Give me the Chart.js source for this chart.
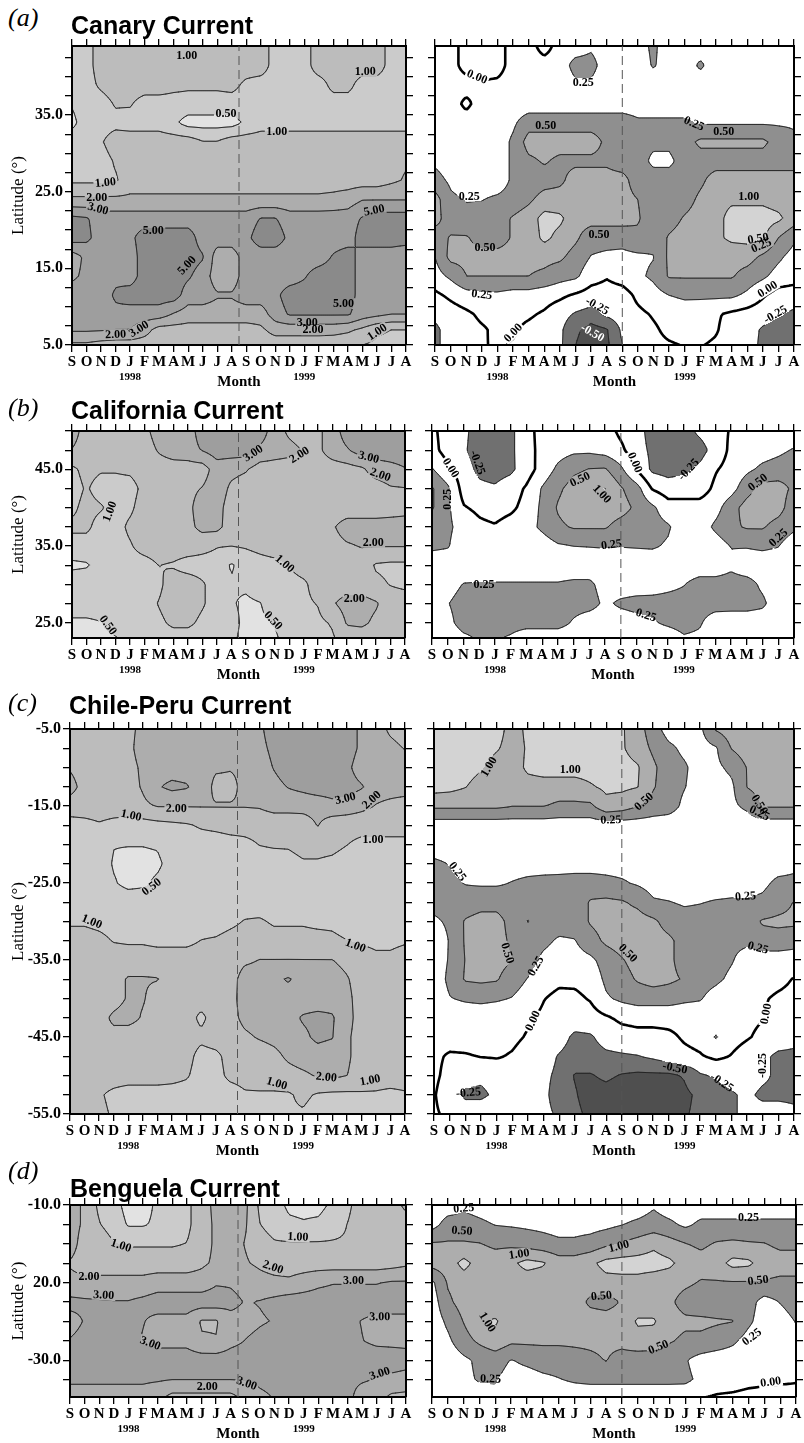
<!DOCTYPE html>
<html>
<head>
<meta charset="utf-8">
<script src="https://cdn.jsdelivr.net/npm/chart.js@4.4.1/dist/chart.umd.min.js"></script>
<style>
html, body { margin: 0; padding: 0; background: #fff; }
#page { position: relative; width: 804px; height: 1443px; overflow: hidden; }
#page canvas { position: absolute; }
.tag { position: absolute; font: italic 26px "Liberation Serif", serif; line-height: 26px; white-space: nowrap; }
.name { position: absolute; font: bold 25px "Liberation Sans", Arial, sans-serif; line-height: 25px; white-space: nowrap; }
</style>
</head>
<body>
<div id="page"></div>
<script>
// month ticks, Sep 1997 .. Aug 1999
const months = ['S','O','N','D','J','F','M','A','M','J','J','A','S','O','N','D','J','F','M','A','M','J','J','A'];
const bottomText = ['1998', 'Month', '1999'];
const bottomPos = [4, 11.5, 16];

const meanLevels = [0.5, 1, 2, 3, 5];
const anomLevels = [-0.5, -0.25, 0, 0.25, 0.5, 1];
const meanShades = ['#e2e2e2', '#cbcbcb', '#bcbcbc', '#adadad', '#9e9e9e', '#8a8a8a'];
const anomShades = ['#4f4f4f', '#707070', '#ffffff', '#ffffff', '#8f8f8f', '#adadad', '#d3d3d3'];

// (a) Canary Current
const latA = [44, 41.5, 39, 36.5, 34, 31.5, 29, 26.5, 24, 21.5, 19, 16.5, 14, 11.5, 9, 7, 5];
const latTicksA = [5, 15, 25, 35];
const latTextA = ['5.0', '15.0', '25.0', '35.0'];
const canaryMean = [
  [.8,.8,1.5,1.5,1.5,1.5,1.5,1.5,1.5,1.5,1.5,1.5,1.5,1.5,.8,.8,.8,1.5,1.5,1.5,1.5,1.5,.8,.8],
  [.8,.8,1.5,1.5,1.5,1.5,1.5,1.5,1.5,1.5,1.5,1.5,1.5,1.5,.8,.8,.8,1.5,1.5,1.5,1.5,1.5,.8,.8],
  [.8,.8,1.2,1.5,1.5,1.5,1.5,1.3,1.2,1.2,1.2,1.3,.9,.8,.8,.8,.8,.8,1.3,1.3,.8,.8,.8,.8],
  [.55,.8,.8,1.1,1.1,.8,.8,.8,.8,.8,.8,.8,.8,.8,.8,.8,.8,.8,.8,.8,.8,.8,.8,.8],
  [.35,.8,.8,.85,.8,.8,.8,.6,.3,.3,.3,.3,.6,.8,.8,.8,.8,.8,.8,.8,.8,.8,.8,.8],
  [.8,.8,.95,1.5,1.5,1.5,1.5,1.5,1.5,1.05,1.05,1.5,1.5,1.5,1.5,1.5,1.5,1.5,1.5,1.5,1.5,1.5,1.5,1.5],
  [.8,.8,.8,1.1,1.5,1.5,1.5,1.5,1.5,1.5,1.5,1.5,1.5,1.5,1.5,1.5,1.5,1.5,1.5,1.5,1.5,1.5,1.7,1.9],
  [.9,.9,.9,.95,1.5,1.5,1.5,1.5,1.5,1.5,1.5,1.5,1.5,1.5,1.5,1.5,1.5,1.5,1.5,1.5,1.5,1.5,1.8,2.1],
  [2.2,2.2,2.2,2.2,2.2,2.2,2.2,2.2,2.2,2.2,2.2,2.2,2.2,2.2,2.2,2.2,2.2,2.2,2.3,2.5,2.95,2.95,2.95,2.95],
  [5.5,5.2,4,4,4,4,4,4,4,4,4,4,4,5.1,5.1,4,4,4,4,4,5.2,6,6,6],
  [6,5.5,4,4,4.5,6,6,6,6,4,4,4,4.5,6,6,4.5,4,4,4,4,6,6,6,6],
  [2.5,3.5,4,4,4,6,6,6,6,5.2,2.5,2.5,4,4,4,4,4,4,5.2,6,4,4,4,3.5],
  [2.8,3.5,4,4.5,4,6,6,6,5.3,4,2.5,2.5,4,4,4,4,4.8,6,6,6,4,4,4,4],
  [4,4,4,5.3,6,6,6,6,4,4,3.2,3.2,4,4,4.5,6,6,6,6,6,4,4,4,4],
  [4,4,4,4.5,4,4,4,2.9,2.5,2.5,2.5,2.5,2.5,2.5,4,5.2,5.2,5.2,5.2,5.2,4,3.5,3,3],
  [3.3,3.3,3.2,3.0,3.0,2.4,1.6,1.6,1.6,1.6,1.6,1.6,1.6,1.8,2.4,2.4,2.4,2.4,2.4,2.2,1.8,1.2,1.0,1.0],
  [1.8,1.8,1.6,1.5,1.5,1.5,1.4,1.4,1.4,1.4,1.4,1.4,1.4,1.4,1.4,1.4,1.4,1.4,1.3,1.2,1.0,.9,.8,.8]
];
const canaryAnom = [
  [.1,.1,-.1,-.1,-.1,.1,.1,-.1,.1,.1,.2,.1,.1,.15,.3,.1,.1,.1,.1,.1,.1,.1,.1,.1],
  [.1,.1,-.1,-.1,-.1,.1,.1,.1,.1,.35,.35,.1,.1,.1,.28,.1,.1,.3,.1,.1,.1,.1,.1,.1],
  [.1,.1,.1,.02,.05,.1,.1,.1,.1,.2,.2,.1,.1,.1,.1,.1,.1,.1,.1,.1,.1,.1,.1,.1],
  [.1,.1,-.05,.1,.1,.1,.1,.1,.1,.1,.1,.1,.1,.1,.1,.1,.1,.1,.1,.1,.1,.1,.1,.1],
  [.1,.1,.1,.1,.1,.2,.4,.4,.4,.4,.4,.4,.4,.3,.3,.3,.3,.22,.22,.22,.22,.22,.22,.22],
  [.1,.1,.1,.1,.1,.3,.7,.7,.7,.7,.7,.45,.4,.3,.3,.3,.4,.6,.6,.6,.6,.6,.4,.3],
  [.2,.1,.1,.1,.1,.3,.45,.55,.45,.45,.45,.45,.35,.35,.2,.2,.35,.4,.4,.4,.4,.4,.4,.4],
  [.35,.2,.1,.1,.1,.3,.35,.4,.45,.7,.7,.7,.7,.35,.35,.35,.35,.45,.7,.7,.7,.7,.7,.7],
  [.7,.3,.24,.24,.3,.35,.45,.7,.7,.7,.7,.7,.7,.5,.35,.35,.4,.6,.8,.9,.9,.9,.8,.7],
  [.7,.35,.3,.35,.4,.55,.75,1.18,1.1,.7,.7,.7,.7,.55,.35,.4,.55,.7,.8,1.2,1.2,1.2,1.1,.75],
  [.35,.55,.55,.4,.4,.55,.7,1.12,.85,.6,.35,.35,.35,.45,.35,.55,.7,.75,.9,1.1,1.15,1.1,.5,.3],
  [.25,.65,.65,.65,.65,.65,.65,.65,.6,.4,.24,.2,.18,.2,.24,.6,.7,.7,.7,.7,.7,.45,.3,.15],
  [.15,.3,.5,.5,.5,.5,.5,.45,.35,.3,.1,.02,.1,.2,.3,.55,.55,.55,.55,.55,.4,.3,.15,.1],
  [-.05,.05,.15,.2,.2,.15,.15,.1,.05,-.03,-.1,-.1,-.1,.05,.15,.25,.3,.3,.3,.3,.2,.03,-.1,-.12],
  [-.2,-.12,-.05,.05,.08,.05,.03,-.03,-.15,-.28,-.35,-.2,-.12,-.05,.02,.08,.1,.08,.03,-.05,-.1,-.15,-.22,-.3],
  [-.3,-.15,-.1,-.03,.05,.03,-.05,-.1,-.2,-.45,-.6,-.52,-.2,-.1,-.03,.05,.08,.08,.02,-.1,-.15,-.28,-.35,-.35],
  [-.3,-.15,-.08,-.02,.03,-.02,-.08,-.12,-.2,-.5,-.65,-.55,-.25,-.12,-.05,-.02,.01,.01,-.03,-.1,-.15,-.3,-.35,-.35]
];
const canaryMeanLabels = [
  [7.9,42.8,'1.00'],[20.2,40.7,'1.00'],[10.6,35.2,'0.50'],[14.1,32.8,'1.00'],[2.3,26.2,'1.00'],
  [1.7,24.3,'2.00'],[1.8,22.8,'3.00'],[5.6,20,'5.00'],[7.9,15.4,'5.00'],[20.8,22.6,'5.00'],
  [18.7,10.4,'5.00'],[16.2,7.9,'3.00'],[16.6,7.0,'2.00'],[21,6.7,'1.00'],[3,6.4,'2.00'],[4.6,7.1,'3.00']
];
const canaryAnomLabels = [
  [2.7,40,'0.00'],[9.5,39.3,'0.25'],[7.1,33.7,'0.50'],[16.6,33.9,'0.25'],[18.5,32.8,'0.50'],
  [2.2,24.4,'0.25'],[20.1,24.4,'1.00'],[3.2,17.7,'0.50'],[10.5,19.4,'0.50'],[20.7,18.9,'0.50'],
  [20.9,18,'0.25'],[3,11.6,'0.25'],[21.3,12.3,'0.00'],[10.4,10.1,'-0.25'],[10.1,6.6,'-0.50'],
  [5,6.6,'0.00'],[21.8,9,'-0.25']
];

// (b) California Current
const latB = [50, 47.5, 45, 42.5, 40, 37.5, 35, 32.5, 30, 27.5, 25, 23];
const latTicksB = [25, 35, 45];
const latTextB = ['25.0', '35.0', '45.0'];
const californiaMean = [
  [2.5,1.5,1.5,1.5,1.5,1.7,2.5,2.5,2.5,4,4,4,4,4,2.5,1.8,1.5,1.8,2.5,4,4,4,4,4],
  [1.95,1.5,1.5,1.5,1.5,1.5,2.1,2.5,2.6,3.1,4,4,4,2.8,2.5,2.3,1.95,1.8,2.5,2.9,4,4,4,4],
  [.9,1.3,1.1,1.1,1.2,1.5,1.5,1.5,1.5,1.5,2.5,2.3,2.1,1.5,1.5,1.5,1.5,1.5,1.5,1.6,1.8,2.5,2.7,2.95],
  [.8,1.1,.8,.8,.8,1.3,1.5,1.5,1.7,2.05,2.6,1.8,1.5,1.5,1.5,1.5,1.5,1.5,1.5,1.5,1.5,1.5,1.9,1.95],
  [.9,1.3,1.1,.8,.9,1.5,1.5,1.5,1.7,2.6,2.4,1.5,1.5,1.5,1.5,1.5,1.5,1.5,1.5,1.5,1.5,1.5,1.6,1.7],
  [1.2,1.2,.8,.8,1.2,1.5,1.5,1.5,1.7,2.3,2.3,1.5,1.5,1.5,1.5,1.5,1.5,1.5,1.9,2.4,2.4,2.4,2.4,2.4],
  [.8,.8,.8,.8,.95,1.4,1.5,1.5,1.5,1.3,1.05,1.02,1.1,1.3,1.5,1.5,1.5,1.5,1.7,1.9,2.05,2.05,2.05,2.05],
  [.4,.45,.7,.8,.8,.8,1.02,.95,.8,.8,.8,.45,.7,.8,.85,1.05,1.5,1.5,1.5,1.5,1.5,.95,.9,.9],
  [.8,.8,.8,.8,.8,.8,.9,1.5,1.5,1.1,.8,.55,.6,.8,.8,.8,.9,1.5,1.5,1.5,1.5,1.2,.98,.9],
  [.8,.8,.8,.8,.8,.8,1.05,1.5,1.5,1.1,.8,.55,.4,.48,.8,.8,.9,1.05,1.9,2.4,2.4,2.1,1.5,1.5],
  [.4,.4,.48,.8,.8,.8,.9,1.2,1.2,.9,.8,.7,.35,.4,.55,.8,.8,.9,1.1,2.1,2.2,1.8,1.5,1.5],
  [.3,.3,.35,.45,.8,.8,.8,.8,.8,.8,.8,.6,.35,.35,.4,.8,.8,.8,.95,1.5,1.5,1.5,1.5,1.5]
];
const californiaAnom = [
  [.05,-.1,-.2,-.35,-.35,-.3,-.1,.1,.1,.1,.1,.1,-.05,-.15,-.35,-.35,-.35,-.2,-.1,.02,.1,.1,.1,.1],
  [.08,-.1,-.22,-.35,-.35,-.3,-.1,.08,.15,.2,.2,.15,.05,-.15,-.3,-.35,-.35,-.35,-.15,.05,.1,.15,.2,.27],
  [.27,.05,-.15,-.3,-.35,-.3,-.12,.1,.3,.45,.52,.55,.3,-.02,-.3,-.35,-.3,-.2,-.02,.08,.2,.3,.35,.4],
  [.55,.3,-.1,-.2,-.22,-.12,.03,.27,.45,.7,.8,1.03,.55,.35,-.02,-.12,-.12,-.12,.05,.15,.4,.7,.7,.45],
  [.55,.3,.02,-.05,-.1,-.05,.08,.3,.55,.8,.85,.8,.7,.45,.3,.1,.1,.1,.15,.4,.7,.8,.7,.35],
  [.35,.3,.15,.05,.02,.1,.15,.3,.45,.55,.55,.55,.4,.35,.35,.28,.1,.1,.3,.45,.55,.55,.4,.3],
  [.3,.27,.1,.1,.1,.1,.1,.12,.22,.25,.26,.27,.26,.27,.28,.22,.1,.1,.12,.26,.27,.3,.26,.1],
  [.1,.1,.1,.1,.1,.1,.1,.1,.1,.1,.1,.1,.1,.1,.1,.1,.1,.1,.1,.2,.1,.1,.1,.1],
  [.1,.15,.26,.27,.27,.27,.27,.27,.27,.3,.3,.15,.1,.1,.12,.18,.24,.35,.35,.35,.35,.2,.1,.1],
  [.1,.24,.35,.35,.35,.35,.35,.35,.35,.35,.35,.2,.3,.35,.35,.35,.35,.35,.35,.35,.35,.3,.1,.1],
  [.1,.18,.35,.35,.35,.35,.35,.35,.35,.22,.1,.1,.1,.15,.22,.3,.35,.28,.12,.1,.1,.1,.1,.1],
  [.1,.1,.2,.28,.28,.22,.1,.1,.1,.1,.1,.1,.1,.1,.1,.1,.22,.2,.1,.1,.1,.1,.1,.1]
];
const californiaMeanLabels = [
  [12.5,47.1,'3.00'],[15.7,46.9,'2.00'],[20.5,46.6,'3.00'],[21.3,44.3,'2.00'],[2.6,39.5,'1.00'],
  [20.8,35.5,'2.00'],[14.7,32.7,'1.00'],[19.5,28.1,'2.00'],[2.5,24.7,'0.50'],[13.9,25.3,'0.50']
];
const californiaAnomLabels = [
  [1.2,45.2,'0.00'],[2.9,45.9,'-0.25'],[1,41.1,'0.25'],[9.4,43.7,'0.50'],[10.8,41.8,'1.00'],
  [12.9,45.9,'0.00'],[16.3,45,'-0.25'],[20.7,43.3,'0.50'],[11.4,35.2,'0.25'],[22,36.1,'0.25'],
  [3.3,30,'0.25'],[13.6,26,'0.25']
];

// (c) Chile-Peru Current
const latC = [-5,-7.5,-10,-12.5,-15,-17.5,-20,-22.5,-25,-27.5,-30,-32.5,-35,-37.5,-40,-42.5,-45,-47.5,-50,-52.5,-55];
const latTicksC = [-5, -15, -25, -35, -45, -55];
const latTextC = ['-5.0', '-15.0', '-25.0', '-35.0', '-45.0', '-55.0'];
const chilePeruMean = [
  [1.5,1.5,1.5,1.5,1.7,2.3,2.5,2.5,2.5,2.5,2.5,2.5,2.5,2.8,4,4,4,4,4,4,2.8,2.5,1.8,1.5],
  [1.5,1.5,1.5,1.5,1.7,2.5,2.5,2.5,2.5,2.5,2.5,2.4,2.3,2.7,3.5,4,4,4,4,4,2.8,2.5,2.3,1.95],
  [1.9,1.5,1.5,1.5,1.6,2.2,2.5,2.5,2.5,2.3,2.1,2.05,2.1,2.5,3.1,4,4,4,4,3.5,2.5,2.5,2.5,2.5],
  [2.4,1.6,1.5,1.5,1.6,2.1,2.9,3.5,3.2,2.5,1.8,1.8,2.2,2.5,2.7,3.1,3.5,4,4,3.8,3.2,2.5,2.5,2.5],
  [1.5,1.5,1.5,1.5,1.5,1.8,2.05,2.05,2.05,2.05,2.05,2.05,2.05,2.1,2.4,2.4,2.4,2.4,2.7,2.6,2.3,1.95,1.7,1.5],
  [.8,.85,.95,.85,.8,.8,.85,.9,.95,1.1,1.2,1.3,1.3,1.3,1.3,1.3,1.4,2.05,1.4,1.3,1.3,1.3,1.3,1.3],
  [.8,.8,.8,.52,.52,.52,.55,.8,.8,.8,.8,.85,.9,1.02,1.1,1.1,1.3,1.3,1.25,1.02,.9,.9,.9,.9],
  [.8,.8,.8,.45,.35,.35,.4,.7,.8,.8,.8,.8,.8,.8,.8,.85,.95,.95,.9,.8,.8,.8,.8,.8],
  [.8,.8,.8,.55,.35,.4,.6,.8,.8,.8,.8,.8,.8,.8,.8,.8,.8,.8,.8,.8,.8,.8,.8,.8],
  [.8,.8,.8,.8,.8,.8,.8,.8,.8,.8,.8,.8,.8,.8,.8,.8,.8,.8,.8,.8,.8,.8,.8,.8],
  [.95,.95,.9,.85,.8,.8,.8,.8,.8,.8,.8,.9,1.05,1.1,.95,.95,.95,.9,.9,.8,.8,.8,.8,.8],
  [1.3,1.3,1.2,.98,.95,.95,.9,.9,.9,1.02,1.1,1.3,1.4,1.4,1.3,1.3,1.3,1.3,1.2,1.02,.95,.9,.9,.95],
  [1.4,1.4,1.4,1.4,1.4,1.4,1.4,1.4,1.4,1.4,1.4,1.4,1.8,2.02,2.02,2.02,2.02,2.02,2.02,1.7,1.4,1.2,1.2,1.4],
  [1.4,1.4,1.4,1.6,2.1,2.1,2.05,1.4,1.4,1.4,1.4,1.5,2.5,2.5,2.8,3.2,2.6,2.5,2.5,2.1,1.5,1.4,1.4,1.4],
  [1.4,1.4,1.4,1.6,2.1,2.1,1.5,1.4,1.4,1.4,1.4,1.6,2.5,2.5,2.5,2.5,2.5,2.5,2.6,2.3,1.5,1.4,1.4,1.4],
  [1.4,1.4,1.6,2.2,2.4,1.9,1.4,1.4,1.4,.9,1.4,1.6,2.3,2.5,2.5,2.7,3.2,3.5,3.2,2.4,1.5,1.4,1.4,1.4],
  [1.4,1.4,1.8,1.7,1.4,1.4,1.4,1.4,1.4,1.2,1.4,1.4,1.8,2.1,2.3,2.5,2.8,3.4,3.1,2.2,1.5,1.4,1.4,1.4],
  [1.4,1.4,1.4,1.4,1.4,1.4,1.4,1.4,1.3,.85,.9,1.3,1.4,1.4,1.7,2.2,2.5,2.6,2.5,2.2,1.5,1.4,1.4,1.4],
  [1.4,1.4,1.4,1.4,1.4,1.4,1.4,1.3,1.1,.8,.85,1.2,1.3,1.4,1.4,1.6,1.8,2.1,2.2,2.02,1.5,1.4,1.4,1.4],
  [1.3,1.3,1.1,.9,.8,.8,.8,.8,.8,.8,.8,.8,.95,.95,.95,.95,1.2,.95,.9,.9,.95,.95,.9,.95],
  [1.3,1.3,1.2,.95,.8,.8,.8,.8,.8,.8,.8,.8,.8,.8,.8,.95,.95,.8,.8,.8,.8,.8,.8,.8]
];
const chilePeruAnom = [
  [1.2,1.2,1.2,1.2,1.2,.8,1.1,1.2,1.2,1.2,1.2,1.2,1.05,.75,.35,.15,.15,.2,.55,.75,.75,.75,.75,.75],
  [1.2,1.2,1.2,1.2,1.05,.8,1.05,1.2,1.2,1.2,1.2,1.2,1.05,.8,.45,.3,.2,.15,.22,.52,.75,.75,.75,.75],
  [1.2,1.2,1.2,1.05,.8,.75,1.1,1.2,1.2,1.2,1.2,1.2,1.15,1.05,.6,.35,.28,.15,.2,.3,.52,.7,.75,.75],
  [1.2,1.15,1.02,.8,.75,.75,.8,.8,.8,.8,.95,1.1,1.1,1.02,.55,.35,.26,.15,.15,.2,.52,.7,.75,.75],
  [.6,.6,.6,.6,.6,.52,.52,.52,.45,.45,.45,.85,.75,.52,.4,.35,.2,.12,.15,.2,.3,.55,.55,.55],
  [.12,.12,.12,.12,.12,.12,.12,.12,.12,.12,.12,.12,.12,.12,.12,.12,.12,.12,.12,.12,.12,.12,.12,.12],
  [.12,.12,.12,.12,.12,.12,.12,.12,.12,.12,.12,.12,.12,.12,.12,.12,.12,.12,.12,.12,.12,.12,.12,.12],
  [.3,.24,.15,.15,.15,.15,.15,.15,.15,.15,.15,.15,.15,.15,.15,.15,.15,.15,.15,.15,.15,.15,.15,.2],
  [.35,.3,.24,.22,.22,.26,.3,.32,.33,.35,.35,.32,.28,.22,.15,.12,.12,.12,.12,.15,.15,.2,.3,.3],
  [.35,.35,.35,.4,.4,.35,.35,.35,.35,.35,.55,.6,.55,.45,.28,.26,.22,.24,.27,.28,.28,.3,.4,.52],
  [.2,.3,.55,.7,.7,.4,.52,.35,.35,.35,.55,.7,.7,.7,.6,.4,.35,.35,.35,.35,.4,.55,.6,.6],
  [.05,.27,.55,.7,.7,.45,.35,.3,.22,.24,.4,.6,.75,.75,.7,.6,.4,.35,.35,.3,.3,.4,.4,.35],
  [.12,.27,.52,.7,.7,.52,.35,.2,.15,.15,.2,.35,.48,.7,.7,.6,.4,.35,.35,.27,.15,.12,.12,.12],
  [.12,.3,.55,.6,.55,.35,.24,.1,.05,.05,.1,.3,.4,.55,.7,.6,.48,.35,.3,.2,.12,.08,.05,-.01],
  [.12,.24,.28,.3,.28,.24,.15,.01,-.06,-.05,.02,.22,.3,.35,.35,.35,.3,.27,.15,.05,.05,.02,-.03,-.05],
  [.1,.12,.12,.12,.1,.08,.03,-.05,-.12,-.12,-.1,-.03,.05,.08,.08,.08,.08,.1,.1,.08,.05,.01,-.08,-.12],
  [.1,.1,.1,.1,.08,.05,-.02,-.08,-.15,-.3,-.28,-.15,-.1,-.08,-.08,-.05,.03,.08,.27,.08,.02,-.05,-.12,-.18],
  [.05,-.03,-.02,.01,.02,-.02,-.1,-.15,-.27,-.35,-.35,-.3,-.28,-.26,-.2,-.12,-.06,-.02,.05,-.01,-.1,-.2,-.3,-.3],
  [.05,-.08,-.15,-.2,-.15,-.1,-.12,-.2,-.3,-.52,-.52,-.45,-.52,-.55,-.55,-.55,-.48,-.28,-.22,-.15,-.12,-.2,-.3,-.35],
  [.02,-.15,-.3,-.3,-.2,-.1,-.12,-.2,-.35,-.48,-.6,-.6,-.65,-.65,-.65,-.6,-.55,-.45,-.35,-.28,-.2,-.3,-.3,-.3],
  [.03,-.05,-.1,-.1,-.08,-.1,-.15,-.2,-.28,-.45,-.55,-.6,-.65,-.65,-.6,-.58,-.52,-.45,-.35,-.28,-.2,-.15,-.15,-.2]
];
const chilePeruMeanLabels = [
  [7.3,-15.3,'2.00'],[18.9,-14,'3.00'],[20.7,-14.2,'2.00'],[4.2,-16.2,'1.00'],[20.8,-19.4,'1.00'],
  [5.6,-25.5,'0.50'],[1.5,-30,'1.00'],[19.6,-33.1,'1.00'],[17.6,-50.2,'2.00'],[14.2,-51,'1.00'],
  [20.6,-50.6,'1.00']
];
const chilePeruAnomLabels = [
  [3.5,-9.9,'1.00'],[8.7,-10.2,'1.00'],[13.4,-14.4,'0.50'],[11.3,-16.8,'0.25'],[20.8,-14.8,'0.50'],
  [20.8,-15.9,'0.25'],[1.5,-23.5,'0.25'],[19.9,-26.7,'0.25'],[4.7,-34.1,'0.50'],[6.5,-35.8,'0.25'],
  [12.4,-34.1,'0.50'],[20.7,-33.4,'0.25'],[6.3,-42.9,'0.00'],[21.2,-42,'0.00'],[15.4,-49,'-0.50'],
  [18.4,-50.9,'-0.25'],[2.2,-52.2,'-0.25'],[21,-48.7,'-0.25']
];

// (d) Benguela Current
const latD = [-10,-12.5,-15,-17.5,-20,-22.5,-25,-27.5,-30,-32.5,-34.75];
const latTicksD = [-10, -20, -30];
const latTextD = ['-10.0', '20.0', '-30.0'];
const benguelaMean = [
  [2.5,1.8,.9,.7,.3,.3,.6,.8,.9,1.5,2.3,2.5,2.2,.9,.7,.4,.35,.35,.6,.9,1.5,1.5,1.6,2.2],
  [2.5,1.8,1.05,.8,.45,.45,.6,.8,.9,1.5,2.2,2.5,2.1,1.02,.8,.6,.55,.6,.8,1.02,1.5,1.5,1.5,1.6],
  [2.5,1.5,1.5,1.05,.95,.95,.95,.95,1.02,1.5,2.2,2.4,1.95,1.4,1.1,1.1,1.1,1.1,1.1,1.1,1.5,1.5,1.6,1.7],
  [1.9,1.5,1.5,1.5,1.5,1.5,1.5,1.5,1.5,1.8,2.2,2.4,2.1,1.8,1.5,1.5,1.5,1.5,1.5,1.5,1.5,1.5,1.6,1.8],
  [2.3,2.3,2.3,2.3,2.3,2.3,2.5,2.5,2.5,2.5,2.9,2.9,2.7,2.4,2.3,2.2,2.5,2.8,2.95,2.95,2.95,2.95,3.2,3.2],
  [3.5,3.3,3.2,3.1,3.1,3.5,4,4,4,4,4,3.5,2.95,3.1,3.5,4,4,4,4,4,4,4,4,4],
  [2.7,3.1,4,4,4,3.1,2.7,2.7,2.7,1.9,1.9,2.7,2.7,2.9,3.1,4,4,4,4,3.5,2.95,2.7,2.7,2.7],
  [3.1,3.5,4,4,4,2.9,2.7,2.7,2.7,2.1,2.05,2.7,3.05,3.5,4,4,4,4,4,4,3.05,2.8,2.8,2.8],
  [4,4,4,4,4,4,4,4,4,4,4,4,4,4,4,4,4,4,4,4,4,4,3.8,3.6],
  [3.3,3.3,3.3,3.3,3.3,3.3,3.2,3.05,3.05,3.05,3.05,3.05,3.1,3.4,3.6,4,4,4,4,3.4,3.2,2.95,2.8,2.7],
  [2.6,2.6,2.6,2.6,2.6,2.6,2.3,1.7,1.7,1.7,1.7,1.7,2.3,2.8,3.1,3.5,3.5,3.5,3.5,3.5,2.6,2.4,1.8,1.7]
];
const benguelaAnom = [
  [.1,.12,.2,.15,.12,.12,.12,.12,.12,.12,.12,.12,.12,.12,.22,.12,.12,.12,.12,.12,.12,.12,.12,.12],
  [.15,.35,.35,.3,.24,.22,.2,.18,.15,.15,.15,.18,.24,.3,.35,.3,.2,.3,.3,.3,.3,.3,.3,.3],
  [.55,.55,.55,.52,.45,.45,.4,.35,.3,.3,.35,.45,.55,.7,.9,.7,.52,.45,.55,.6,.55,.52,.45,.45],
  [.7,.75,1.15,.8,.75,.9,1.15,1.05,.75,.75,.9,1.15,1.2,1.2,1.2,1.1,.8,.7,.8,1.15,1.1,.75,.7,.7],
  [.2,.55,.75,.75,.75,.75,.75,.75,.75,.75,.75,.85,.85,.85,.75,.7,.6,.48,.48,.48,.48,.48,.45,.45],
  [.12,.45,.7,.75,.75,.75,.75,.75,.75,.75,.45,.4,.55,.75,.75,.6,.4,.35,.35,.35,.35,.15,.26,.35],
  [.1,.3,.52,.95,1.05,.75,.75,.75,.75,.75,.75,.75,.75,1.05,1.05,.7,.6,.6,.55,.52,.3,.12,.15,.26],
  [.1,.2,.4,.6,.85,.6,.6,.6,.6,.6,.6,.6,.65,.85,.8,.55,.45,.45,.4,.3,.15,.1,.1,.2],
  [.1,.1,.2,.3,.35,.24,.3,.35,.35,.4,.45,.52,.4,.35,.35,.35,.27,.15,.1,.1,.1,.1,.1,.1],
  [.1,.12,.2,.27,.27,.15,.15,.2,.24,.28,.3,.3,.3,.3,.3,.3,.3,.2,.1,.08,.05,.03,.02,.01],
  [.1,.12,.12,.15,.2,.12,.12,.12,.12,.12,.12,.12,.12,.12,.12,.12,.1,.01,-.02,-.03,-.05,-.05,-.05,-.04]
];
const benguelaMeanLabels = [
  [3.5,-15.2,'1.00'],[15.6,-14.1,'1.00'],[1.3,-19.2,'2.00'],[13.9,-18,'2.00'],[2.3,-21.6,'3.00'],
  [19.4,-19.7,'3.00'],[21.2,-24.4,'3.00'],[5.5,-27.8,'3.00'],[12.1,-33,'3.00'],[9.4,-33.4,'2.00'],
  [21.2,-31.7,'3.00']
];
const benguelaAnomLabels = [
  [2,-10.4,'0.25'],[1.9,-13.3,'0.50'],[5.5,-16.3,'1.00'],[11.8,-15.3,'1.00'],[20,-11.6,'0.25'],
  [20.6,-19.7,'0.50'],[10.7,-21.7,'0.50'],[3.5,-25.1,'1.00'],[14.3,-28.3,'0.50'],[20.2,-27,'0.25'],
  [3.7,-32.4,'0.25'],[21.4,-32.8,'0.00']
];

const SERIF = '"Liberation Serif", "Times New Roman", serif';
const LABEL_FONT = 'bold 12px "Liberation Serif", serif';

const rows = [
  { tag: '(a)', name: 'Canary Current', top: 46, bottom: 345, left: [72, 406], right: [435, 794],
    tagTop: 5, nameTop: 13, nameLeft: 71, lats: latA, ticks: latTicksA, tickText: latTextA,
    mean: canaryMean, anom: canaryAnom, meanLabels: canaryMeanLabels, anomLabels: canaryAnomLabels },
  { tag: '(b)', name: 'California Current', top: 431, bottom: 638, left: [72, 405], right: [432, 794],
    tagTop: 395, nameTop: 398, nameLeft: 71, lats: latB, ticks: latTicksB, tickText: latTextB,
    mean: californiaMean, anom: californiaAnom, meanLabels: californiaMeanLabels, anomLabels: californiaAnomLabels },
  { tag: '(c)', name: 'Chile-Peru Current', top: 729, bottom: 1114, left: [70, 405], right: [434, 794],
    tagTop: 690, nameTop: 693, nameLeft: 69, lats: latC, ticks: latTicksC, tickText: latTextC,
    mean: chilePeruMean, anom: chilePeruAnom, meanLabels: chilePeruMeanLabels, anomLabels: chilePeruAnomLabels },
  { tag: '(d)', name: 'Benguela Current', top: 1205, bottom: 1397, left: [70, 406], right: [432, 796],
    tagTop: 1158, nameTop: 1176, nameLeft: 70, lats: latD, ticks: latTicksD, tickText: latTextD,
    mean: benguelaMean, anom: benguelaAnom, meanLabels: benguelaMeanLabels, anomLabels: benguelaAnomLabels }
];

// position of a value on the contour-level axis, so bands split halfway between nodes
function levelPos(v, lv) {
  const n = lv.length;
  if (v <= lv[0]) return (v - lv[0]) / (lv[1] - lv[0]);
  if (v >= lv[n - 1]) return (n - 1) + (v - lv[n - 1]) / (lv[n - 1] - lv[n - 2]);
  let k = 0;
  while (k < n - 2 && v >= lv[k + 1]) k++;
  return k + (v - lv[k]) / (lv[k + 1] - lv[k]);
}

function sampler(def) {
  const g = def.grid.map(r => r.map(v => levelPos(v, def.levels)));
  const lats = def.lats, nr = lats.length;
  return (m, lat) => {
    const c = Math.max(0, Math.min(23, m));
    const c0 = Math.min(22, Math.floor(c)), tx = c - c0;
    const la = Math.max(lats[nr - 1], Math.min(lats[0], lat));
    let r = 0;
    while (r < nr - 2 && la < lats[r + 1]) r++;
    const ty = (lats[r] - la) / (lats[r] - lats[r + 1]);
    const top = g[r][c0] * (1 - tx) + g[r][c0 + 1] * tx;
    const bot = g[r + 1][c0] * (1 - tx) + g[r + 1][c0 + 1] * tx;
    return top * (1 - ty) + bot * ty;
  };
}

function hexRgb(h) {
  return [parseInt(h.slice(1, 3), 16), parseInt(h.slice(3, 5), 16), parseInt(h.slice(5, 7), 16)];
}

const panelDefs = new Map();

const contourPlugin = {
  id: 'contourField',
  beforeDraw(chart) {
    const def = panelDefs.get(chart.canvas);
    if (!def) return;
    const ctx = chart.ctx, area = chart.chartArea;
    const xs = chart.scales.x, ys = chart.scales.y;
    const f = sampler(def);
    const n = def.levels.length;
    const band = F => F < 0 ? 0 : Math.min(n, Math.floor(F) + 1);
    const rgb = def.colors.map(hexRgb);
    const x0 = Math.round(area.left), y0 = Math.round(area.top);
    const w = Math.round(area.right) - x0, h = Math.round(area.bottom) - y0;

    // shaded bands
    const img = ctx.createImageData(w, h);
    const mx = [];
    for (let i = 0; i < w; i++) mx.push(xs.getValueForPixel(x0 + i + 0.5));
    for (let j = 0; j < h; j++) {
      const lat = ys.getValueForPixel(y0 + j + 0.5);
      for (let i = 0; i < w; i++) {
        const c = rgb[band(f(mx[i], lat))];
        const k = (j * w + i) * 4;
        img.data[k] = c[0]; img.data[k + 1] = c[1]; img.data[k + 2] = c[2]; img.data[k + 3] = 255;
      }
    }
    ctx.putImageData(img, x0, y0);

    // label boxes, oriented along the local contour
    ctx.font = LABEL_FONT;
    const boxes = def.labels.map(([m, lat, text]) => {
      const cx = xs.getPixelForValue(m), cy = ys.getPixelForValue(lat);
      const gx = f(xs.getValueForPixel(cx + 3), lat) - f(xs.getValueForPixel(cx - 3), lat);
      const gy = f(m, ys.getValueForPixel(cy + 3)) - f(m, ys.getValueForPixel(cy - 3));
      let ang = (Math.abs(gx) + Math.abs(gy) < 1e-6) ? 0 : Math.atan2(gx, -gy);
      if (ang > Math.PI / 2) ang -= Math.PI;
      if (ang < -Math.PI / 2) ang += Math.PI;
      return { cx, cy, ang, text, tw: ctx.measureText(text).width, F: f(m, lat) };
    });

    // contour lines by marching squares on a 2px lattice
    const step = 2;
    const nx = Math.ceil(w / step), ny = Math.ceil(h / step);
    const px = i => x0 + Math.min(w, i * step), py = j => y0 + Math.min(h, j * step);
    const V = new Float32Array((nx + 1) * (ny + 1));
    for (let j = 0; j <= ny; j++) {
      const lat = ys.getValueForPixel(py(j));
      for (let i = 0; i <= nx; i++) V[j * (nx + 1) + i] = f(xs.getValueForPixel(px(i)), lat);
    }
    ctx.save();
    ctx.beginPath();
    ctx.rect(x0, y0, w, h);
    boxes.forEach(b => {
      const c = Math.cos(b.ang), s = Math.sin(b.ang), hw = b.tw / 2 + 1.5, hh = 5.5;
      const pts = [[-hw, -hh], [hw, -hh], [hw, hh], [-hw, hh]].map(([u, v]) => [b.cx + u * c - v * s, b.cy + u * s + v * c]);
      ctx.moveTo(pts[0][0], pts[0][1]);
      for (let q = 1; q < 4; q++) ctx.lineTo(pts[q][0], pts[q][1]);
      ctx.closePath();
    });
    ctx.clip('evenodd');
    ctx.lineCap = 'round';
    ctx.lineJoin = 'round';
    for (let k = 0; k < n; k++) {
      const t = k;
      ctx.beginPath();
      const seg = (p, q) => { ctx.moveTo(p[0], p[1]); ctx.lineTo(q[0], q[1]); };
      for (let j = 0; j < ny; j++) {
        for (let i = 0; i < nx; i++) {
          const a = V[j * (nx + 1) + i], b = V[j * (nx + 1) + i + 1];
          const c = V[(j + 1) * (nx + 1) + i + 1], d = V[(j + 1) * (nx + 1) + i];
          const A = a >= t, B = b >= t, C = c >= t, D = d >= t;
          if (A === B && B === C && C === D) continue;
          const X0 = px(i), X1 = px(i + 1), Y0 = py(j), Y1 = py(j + 1);
          const pts = [];
          if (A !== B) pts.push([X0 + (X1 - X0) * (t - a) / (b - a), Y0]);
          if (B !== C) pts.push([X1, Y0 + (Y1 - Y0) * (t - b) / (c - b)]);
          if (D !== C) pts.push([X0 + (X1 - X0) * (t - d) / (c - d), Y1]);
          if (A !== D) pts.push([X0, Y0 + (Y1 - Y0) * (t - a) / (d - a)]);
          if (pts.length === 2) seg(pts[0], pts[1]);
          else if (pts.length === 4) {
            if (((a + b + c + d) / 4 >= t) === A) { seg(pts[0], pts[1]); seg(pts[2], pts[3]); }
            else { seg(pts[0], pts[3]); seg(pts[1], pts[2]); }
          }
        }
      }
      const zero = def.levels[k] === 0;
      ctx.lineWidth = zero ? 2.6 : 0.9;
      ctx.strokeStyle = zero ? '#000' : '#222';
      ctx.stroke();
    }
    ctx.restore();

    // contour labels
    boxes.forEach(b => {
      const c = rgb[band(b.F)];
      const lum = 0.3 * c[0] + 0.59 * c[1] + 0.11 * c[2];
      ctx.save();
      ctx.translate(b.cx, b.cy);
      ctx.rotate(b.ang);
      ctx.font = LABEL_FONT;
      ctx.textAlign = 'center';
      ctx.textBaseline = 'middle';
      ctx.fillStyle = lum < 100 ? '#fff' : '#000';
      ctx.fillText(b.text, 0, 0.5);
      ctx.restore();
    });
  }
};
Chart.register(contourPlugin);

const page = document.getElementById('page');
const TOP = 12, B1 = 26, B2 = 26;

function buildPanel(row, side) {
  const isLeft = side === 'left';
  const [pl, pr] = isLeft ? row.left : row.right;
  const cl = isLeft ? 0 : 420, cw = isLeft ? 420 : 384;
  const cv = document.createElement('canvas');
  cv.width = cw;
  cv.height = (row.bottom - row.top) + TOP + B1 + B2;
  cv.style.left = cl + 'px';
  cv.style.top = (row.top - TOP) + 'px';
  page.appendChild(cv);

  const lats = row.lats;
  const latMax = lats[0], latMin = lats[lats.length - 1];
  panelDefs.set(cv, {
    lats, grid: isLeft ? row.mean : row.anom,
    levels: isLeft ? meanLevels : anomLevels,
    colors: isLeft ? meanShades : anomShades,
    labels: isLeft ? row.meanLabels : row.anomLabels
  });

  const base = row.ticks[0];
  const latTicks = [];
  for (let v = base + Math.ceil((latMin - base) / 2.5 - 1e-9) * 2.5; v <= latMax + 1e-9; v += 2.5) latTicks.push(Math.round(v * 100) / 100);
  const latLabel = v => {
    const k = row.ticks.findIndex(t => Math.abs(t - v) < 1e-6);
    return k < 0 ? '' : row.tickText[k];
  };
  const split = isLeft ? 11.5 : 12;
  const tickGrid = { display: true, drawOnChartArea: false, drawTicks: true, tickLength: 7, color: '#000', lineWidth: 1.3 };
  const frame = { display: true, color: '#000', width: 2 };

  new Chart(cv, {
    type: 'line',
    data: {
      datasets: [{
        data: [{ x: split, y: latMin }, { x: split, y: latMax }],
        borderColor: '#555', borderWidth: 1, borderDash: [9, 5],
        pointRadius: 0, fill: false, tension: 0
      }]
    },
    options: {
      responsive: false, animation: false, devicePixelRatio: 1, events: [],
      layout: { padding: 0 },
      plugins: { legend: { display: false }, tooltip: { enabled: false } },
      scales: {
        x: {
          type: 'linear', axis: 'x', position: 'bottom', weight: 0, min: 0, max: 23,
          afterBuildTicks: s => { s.ticks = months.map((_, i) => ({ value: i })); },
          afterFit: s => { s.height = B1; },
          ticks: { autoSkip: false, maxRotation: 0, minRotation: 0, padding: 1, color: '#000',
                   font: { family: SERIF, size: 15, weight: 'bold' }, callback: v => months[Math.round(v)] },
          grid: tickGrid, border: frame
        },
        xy: {
          type: 'linear', axis: 'x', position: 'bottom', weight: 1, min: 0, max: 23,
          afterBuildTicks: s => { s.ticks = bottomPos.map(v => ({ value: v })); },
          afterFit: s => { s.height = B2; },
          ticks: { autoSkip: false, maxRotation: 0, minRotation: 0, padding: 0, color: '#000',
                   font: c => bottomText[c.index] === 'Month'
                     ? { family: SERIF, size: 15, weight: 'bold', lineHeight: 1.5 }
                     : { family: SERIF, size: 11, weight: 'bold', lineHeight: 1.2 },
                   callback: (v, i) => bottomText[i] },
          grid: { display: false, drawTicks: false, tickLength: 0 }, border: { display: false }
        },
        xt: {
          type: 'linear', axis: 'x', position: 'top', min: 0, max: 23,
          afterBuildTicks: s => { s.ticks = months.map((_, i) => ({ value: i })); },
          afterFit: s => { s.height = TOP; },
          ticks: { display: false }, grid: tickGrid, border: frame
        },
        y: {
          type: 'linear', axis: 'y', position: 'left', min: latMin, max: latMax,
          afterBuildTicks: s => { s.ticks = latTicks.map(v => ({ value: v })); },
          afterFit: s => { s.width = pl - cl; },
          ticks: { display: isLeft, autoSkip: false, padding: 2, color: '#000',
                   font: { family: SERIF, size: 16, weight: 'bold' }, callback: v => latLabel(v) },
          title: { display: isLeft, text: 'Latitude (°)', color: '#000',
                   font: { family: SERIF, size: 17 }, padding: { top: 8, bottom: 0 } },
          grid: tickGrid, border: frame
        },
        yr: {
          type: 'linear', axis: 'y', position: 'right', min: latMin, max: latMax,
          afterBuildTicks: s => { s.ticks = latTicks.map(v => ({ value: v })); },
          afterFit: s => { s.width = cl + cw - pr; },
          ticks: { display: false }, grid: tickGrid, border: frame
        }
      }
    }
  });
}

rows.forEach(row => {
  buildPanel(row, 'left');
  buildPanel(row, 'right');
});

rows.forEach(row => {
  const t = document.createElement('div');
  t.className = 'tag';
  t.textContent = row.tag;
  t.style.left = '8px';
  t.style.top = row.tagTop + 'px';
  page.appendChild(t);
  const n = document.createElement('div');
  n.className = 'name';
  n.textContent = row.name;
  n.style.left = row.nameLeft + 'px';
  n.style.top = row.nameTop + 'px';
  page.appendChild(n);
});
</script>
</body>
</html>
